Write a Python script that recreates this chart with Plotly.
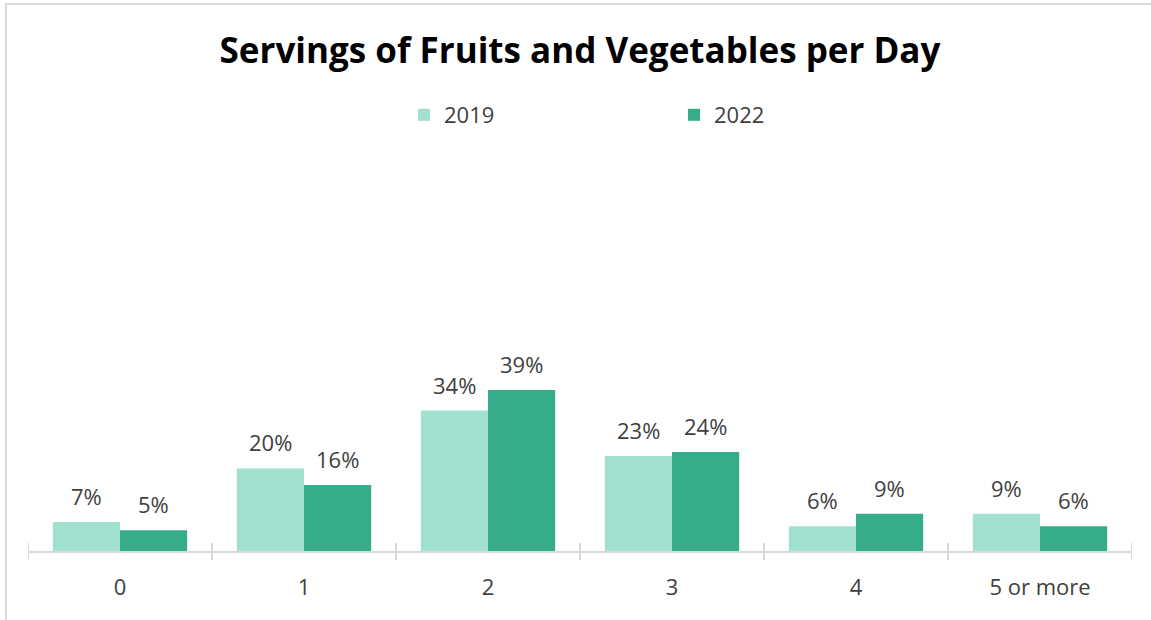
import plotly.graph_objects as go

# Servings of fruits and vegetables per day, share of respondents (%)
categories = ["0", "1", "2", "3", "4", "5 or more"]
share_2019 = [7, 20, 34, 23, 6, 9]
share_2022 = [5, 16, 39, 24, 9, 6]
series_names = ["2019", "2022"]

COLOR_2019 = "#A2E1D0"
COLOR_2022 = "#35AD8B"
AXIS_GRAY = "#D9D9D9"
TEXT_GRAY = "#404040"
FONT = "Open Sans, Noto Sans, sans-serif"

W, H = 1151, 620
M_L, M_R, M_T, M_B = 28, 19, 138, 69
plot_w = W - M_L - M_R
plot_h = H - M_T - M_B

fig = go.Figure()
for name, vals, col in [(series_names[0], share_2019, COLOR_2019),
                        (series_names[1], share_2022, COLOR_2022)]:
    fig.add_trace(go.Bar(
        x=categories, y=vals, name=name,
        marker=dict(color=col, line=dict(width=0)),
        hoverinfo="skip",
    ))

# value labels above each bar
half = plot_w / len(categories) * (1 - 0.27) / 4
for vals, shift in [(share_2019, -half), (share_2022, half)]:
    for c, v in zip(categories, vals):
        fig.add_annotation(
            x=c, y=v, xref="x", yref="y", text=f"{v}%",
            showarrow=False, yanchor="bottom", xshift=shift, yshift=9,
            font=dict(family=FONT, size=22, color=TEXT_GRAY),
        )

# tick marks crossing the axis line at category boundaries
shapes = []
for i in range(len(categories) + 1):
    shapes.append(dict(
        type="line", xref="x", yref="paper",
        x0=i - 0.5, x1=i - 0.5, y0=-9 / plot_h, y1=8 / plot_h,
        line=dict(color=AXIS_GRAY, width=2), layer="below",
    ))

# outer chart frame (right and bottom edges fall just outside the page)
shapes.append(dict(
    type="rect", xref="paper", yref="paper",
    x0=(6 - M_L) / plot_w, x1=(W + 10 - M_L) / plot_w,
    y0=-(M_B + 10) / plot_h, y1=(H - M_B - 4) / plot_h,
    line=dict(color=AXIS_GRAY, width=2), fillcolor="rgba(0,0,0,0)",
    layer="below",
))

fig.update_layout(
    width=W, height=H,
    margin=dict(l=M_L, r=M_R, t=M_T, b=M_B, pad=0),
    paper_bgcolor="white", plot_bgcolor="white",
    barmode="group", bargap=0.27, bargroupgap=0,
    title=dict(
        text="<b>Servings of Fruits and Vegetables per Day</b>",
        x=0.5, xanchor="center", xref="paper",
        y=1 - 51 / H, yanchor="middle",
        font=dict(family=FONT, size=35, color="#000000"),
    ),
    legend=dict(
        orientation="h", x=0.5 + 94 / plot_w, xanchor="center", xref="paper",
        y=(H - M_B - 115) / plot_h, yanchor="middle",
        font=dict(family=FONT, size=22, color=TEXT_GRAY),
        itemwidth=30, entrywidth=225, entrywidthmode="pixels",
        traceorder="normal",
    ),
    xaxis=dict(
        type="category", showgrid=False, zeroline=False,
        showline=True, linecolor=AXIS_GRAY, linewidth=2,
        ticks="", ticklabelstandoff=16,
        tickfont=dict(family=FONT, size=22, color=TEXT_GRAY),
        range=[-0.5, len(categories) - 0.5],
    ),
    yaxis=dict(
        range=[0, 100], showgrid=False, zeroline=False,
        showline=False, showticklabels=False, ticks="",
    ),
    shapes=shapes,
)

fig.write_html("out.html")
